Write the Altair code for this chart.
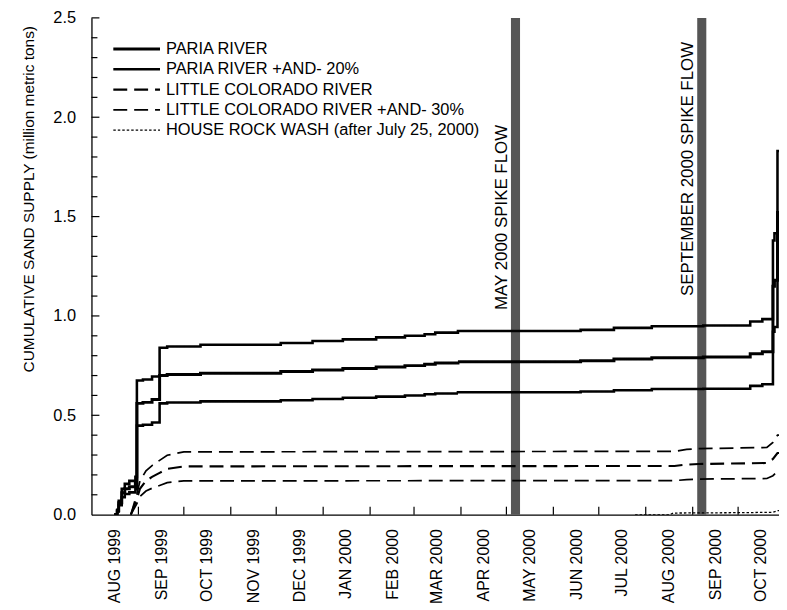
import altair as alt
import pandas as pd

FONT = "Liberation Sans"

# ---------------- data ----------------
paria_dates = ["1999-08-16", "1999-08-18", "1999-08-19", "1999-08-21", "1999-08-23", "1999-08-26",
               "1999-08-30", "1999-08-31", "1999-09-04", "1999-09-10", "1999-09-15", "1999-09-20",
               "1999-10-12", "1999-12-04", "1999-12-25", "2000-01-14", "2000-02-05", "2000-02-24",
               "2000-03-08", "2000-03-15", "2000-03-30", "2000-06-19", "2000-07-11", "2000-08-05",
               "2000-09-08", "2000-10-09", "2000-10-17", "2000-10-24", "2000-10-25", "2000-10-27",
               "2000-10-28"]
paria_vals = [0.0, 0.02, 0.06, 0.11, 0.13, 0.14,
              0.16, 0.56, 0.565, 0.58, 0.70, 0.705,
              0.712, 0.72, 0.728, 0.735, 0.743, 0.75,
              0.757, 0.763, 0.77, 0.775, 0.783, 0.79,
              0.793, 0.81, 0.82, 1.15, 1.18, 1.52,
              1.52]
paria_hi_vals = [0.0, 0.025, 0.07, 0.13, 0.155, 0.17,
                 0.19, 0.675, 0.68, 0.695, 0.84, 0.846,
                 0.855, 0.864, 0.874, 0.882, 0.892, 0.90,
                 0.908, 0.916, 0.924, 0.93, 0.94, 0.948,
                 0.952, 0.972, 0.984, 1.38, 1.416, 1.83,
                 1.83]
paria_lo_vals = [0.0, 0.016, 0.048, 0.088, 0.104, 0.112,
                 0.128, 0.448, 0.452, 0.464, 0.56, 0.564,
                 0.57, 0.576, 0.582, 0.588, 0.594, 0.60,
                 0.606, 0.61, 0.616, 0.62, 0.626, 0.632,
                 0.634, 0.648, 0.656, 0.92, 0.944, 1.216,
                 1.216]

lcr_dates = ["1999-08-27", "1999-08-29", "1999-08-31", "1999-09-02", "1999-09-06", "1999-09-10",
             "1999-09-15", "1999-09-20", "1999-10-01", "2000-08-20", "2000-08-28", "2000-09-05",
             "2000-10-20", "2000-10-24", "2000-10-27", "2000-10-28"]
lcr_vals = [0.0, 0.04, 0.08, 0.13, 0.17, 0.19,
            0.21, 0.23, 0.243, 0.245, 0.252, 0.255,
            0.26, 0.28, 0.31, 0.31]
lcr_hi_vals = [0.0, 0.052, 0.104, 0.169, 0.221, 0.247,
               0.273, 0.299, 0.316, 0.3185, 0.328, 0.332,
               0.338, 0.364, 0.40, 0.40]
lcr_lo_vals = [0.0, 0.028, 0.056, 0.091, 0.119, 0.133,
               0.147, 0.161, 0.17, 0.1715, 0.176, 0.179,
               0.182, 0.196, 0.217, 0.217]

hrw_dates = ["2000-07-25", "2000-08-17", "2000-08-19", "2000-09-05", "2000-10-05", "2000-10-24",
             "2000-10-27", "2000-10-28"]
hrw_vals = [0.0, 0.0, 0.008, 0.009, 0.01, 0.012, 0.02, 0.02]

series_names = ["PARIA RIVER", "PARIA RIVER +AND- 20%", "LITTLE COLORADO RIVER",
                "LITTLE COLORADO RIVER +AND- 30%", "HOUSE ROCK WASH (after July 25, 2000)"]
dash_patterns = [[1, 0], [1, 0], [14, 7], [14, 7], [2.5, 2]]
stroke_widths = [3.0, 1.3, 3.5, 1.3, 2.6]

spike_labels = ["MAY 2000 SPIKE FLOW", "SEPTEMBER 2000 SPIKE FLOW"]
spike_start = ["2000-05-04", "2000-09-04"]
spike_end = ["2000-05-10", "2000-09-10"]
spike_label_y = [1.03, 1.10]

month_starts = [(1999, 8), (1999, 9), (1999, 10), (1999, 11), (1999, 12), (2000, 1), (2000, 2),
                (2000, 3), (2000, 4), (2000, 5), (2000, 6), (2000, 7), (2000, 8), (2000, 9),
                (2000, 10)]
y_major = [0.5, 1.0, 1.5, 2.0, 2.5]
y_minor = [0.1, 0.2, 0.3, 0.4, 0.6, 0.7, 0.8, 0.9, 1.1, 1.2, 1.3, 1.4, 1.6, 1.7, 1.8, 1.9,
           2.1, 2.2, 2.3, 2.4]
y_labels = [0.0, 0.5, 1.0, 1.5, 2.0, 2.5]

# ---------------- tables ----------------
def make(dates, vals, series, line):
    return pd.DataFrame({"date": pd.to_datetime(dates), "value": vals,
                         "series": series, "line": line})

paria_df = pd.concat([
    make(paria_dates, paria_vals, series_names[0], "p"),
    make(paria_dates, paria_hi_vals, series_names[1], "p_hi"),
    make(paria_dates, paria_lo_vals, series_names[1], "p_lo"),
])
lcr_df = pd.concat([
    make(lcr_dates, lcr_vals, series_names[2], "l"),
    make(lcr_dates, lcr_hi_vals, series_names[3], "l_hi"),
    make(lcr_dates, lcr_lo_vals, series_names[3], "l_lo"),
    make(hrw_dates, hrw_vals, series_names[4], "h"),
])
spike_df = pd.DataFrame({"start": pd.to_datetime(spike_start), "end": pd.to_datetime(spike_end),
                         "label": spike_labels, "label_y": spike_label_y,
                         "y0": [0.0, 0.0], "y1": [2.5, 2.5]})
xtick_df = pd.DataFrame({"d": pd.to_datetime([f"{y}-{m:02d}-01" for y, m in month_starts[1:]])})
ymaj_df = pd.DataFrame({"v": y_major})
ymin_df = pd.DataFrame({"v": y_minor})
legend_df = pd.DataFrame({"series": series_names, "row": list(range(len(series_names)))})

W, H = 692, 500

x_scale = alt.Scale(domain=[alt.DateTime(year=1999, month=8, date=1),
                            alt.DateTime(year=2000, month=10, date=28)], nice=False)
y_scale = alt.Scale(domain=[0, 2.5], nice=False)

x_axis = alt.Axis(values=[alt.DateTime(year=y, month=m, date=1) for y, m in month_starts],
                  labelExpr="upper(timeFormat(datum.value, '%b %Y'))",
                  labelAngle=-90, labelOffset=23, labelPadding=14, ticks=False, tickSize=0,
                  grid=False, domainColor="black", domainWidth=1.3, title=None,
                  labelFontSize=16, labelFont=FONT, labelColor="black",
                  labelOverlap=False, labelFlush=False)
y_axis = alt.Axis(values=y_labels, format=".1f", ticks=False, tickSize=0, labelPadding=16,
                  title="CUMULATIVE SAND SUPPLY (million metric tons)", titleFontSize=15.5,
                  titleFontWeight="normal", titleFont=FONT, titleColor="black", titlePadding=16,
                  titleY=182,
                  grid=False, domainColor="black", domainWidth=1.3,
                  labelFontSize=16.5, labelFont=FONT, labelColor="black")

X = alt.X("date:T", scale=x_scale, axis=x_axis)
Y = alt.Y("value:Q", scale=y_scale, axis=y_axis)
dash = alt.StrokeDash("series:N", scale=alt.Scale(domain=series_names, range=dash_patterns), legend=None)
width = alt.StrokeWidth("series:O", scale=alt.Scale(domain=series_names, range=stroke_widths), legend=None)

bars = alt.Chart(spike_df).mark_rect(color="#555555").encode(
    x=alt.X("start:T", scale=x_scale, axis=x_axis), x2="end:T",
    y=alt.Y("y0:Q", scale=y_scale, axis=y_axis), y2="y1:Q")

spike_text = alt.Chart(spike_df).mark_text(angle=270, align="left", baseline="bottom",
                                           fontSize=17, font=FONT, color="black").encode(
    x="start:T", y="label_y:Q", text="label:N")

paria_lines = alt.Chart(paria_df).mark_line(interpolate="step-after", color="black", clip=True).encode(
    x=X, y=Y, detail="line:N", strokeDash=dash, strokeWidth=width)

lcr_lines = alt.Chart(lcr_df).mark_line(color="black", clip=True).encode(
    x=X, y=Y, detail="line:N", strokeDash=dash, strokeWidth=width)

xticks = alt.Chart(xtick_df).mark_rule(color="black", strokeWidth=1.2).encode(
    x="d:T", y=alt.value(H), y2=alt.value(H - 8))
ymaj = alt.Chart(ymaj_df).mark_rule(color="black", strokeWidth=1.2).encode(
    y="v:Q", x=alt.value(0), x2=alt.value(8))
ymin = alt.Chart(ymin_df).mark_rule(color="black", strokeWidth=1.2).encode(
    y="v:Q", x=alt.value(0), x2=alt.value(6))

main = alt.layer(bars, spike_text, paria_lines, lcr_lines, xticks, ymaj, ymin)

row_y = alt.Y("row:O", scale=alt.Scale(type="point", domain=list(range(len(series_names))),
                                       range=[31.3, 113], padding=0), axis=None)
legend_lines = alt.Chart(legend_df).mark_rule(color="black").encode(
    x=alt.value(22), x2=alt.value(69), y=row_y, strokeDash=dash, strokeWidth=width)
legend_text = alt.Chart(legend_df).mark_text(align="left", baseline="middle", fontSize=16.5,
                                             font=FONT, color="black").encode(
    x=alt.value(75), y=row_y, text="series:N")
legend = alt.layer(legend_lines, legend_text)

chart = alt.layer(main, legend).resolve_scale(y="independent").properties(
    width=W, height=H, padding={"left": 14, "top": 0, "right": 0, "bottom": 0}
).configure_view(stroke=None)

chart.save("out.html", embed_options={"renderer": "svg", "actions": False})
